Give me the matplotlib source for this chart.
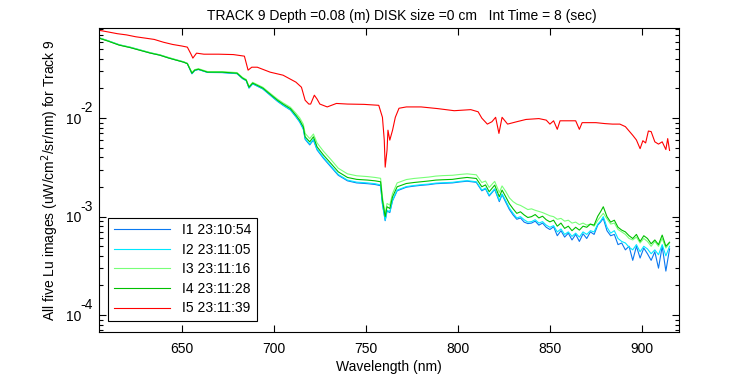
import numpy as np
import matplotlib
matplotlib.use("Agg")
import matplotlib.pyplot as plt

# -*- data (radiance in units of 1e-3 uW/cm^2/sr/nm)

wl_low = np.array([
    605, 610, 616, 622, 627, 633, 638, 643, 647, 651,
    653, 655.5, 657, 659, 664, 672, 680, 683, 685, 686.5,
    688.5, 694, 698, 702, 705, 709, 712, 714, 716, 717,
    719.5, 721.5, 723.5, 727, 731, 735, 740, 745, 751, 755,
    758, 759, 760.5, 761.5, 763, 764.5, 767, 772, 776, 780,
    784, 788, 792, 797, 801, 805, 810, 813, 815, 817,
    820, 822.5, 824, 826, 828, 830, 832, 834, 836, 838,
    840, 842, 844, 846, 848, 850, 852, 854, 856, 858,
    860, 862, 864, 866, 868, 870, 872, 874, 876, 877.5,
    879, 881, 883, 885, 887, 889, 891, 893, 895, 897,
    899, 901, 903, 905, 907, 909, 911, 913, 915])

lu_i1 = np.array([
    65.2, 60.8, 55.4, 52.2, 49.2, 45.8, 43.7, 40.8, 38.9, 37.1,
    35.8, 28.2, 30.5, 31.2, 29.1, 29.0, 28.3, 25.2, 24.0, 20.2,
    22.3, 19.8, 17.1, 14.8, 13.5, 12.1, 10.3, 9.15, 7.75, 6.1,
    5.35, 6.0, 4.75, 3.90, 3.20, 2.63, 2.31, 2.20, 2.16, 2.12,
    2.06, 1.34, 0.91, 1.14, 1.10, 1.45, 1.83, 1.99, 2.04, 2.08,
    2.11, 2.16, 2.18, 2.20, 2.25, 2.29, 2.23, 1.83, 1.92, 1.62,
    1.89, 1.42, 1.67, 1.40, 1.18, 1.04, 0.94, 0.97, 0.88, 0.85,
    0.86, 0.90, 0.82, 0.86, 0.78, 0.74, 0.79, 0.64, 0.72, 0.62,
    0.68, 0.58, 0.66, 0.56, 0.67, 0.60, 0.70, 0.66, 0.82, 0.88,
    0.96, 0.72, 0.64, 0.66, 0.52, 0.54, 0.46, 0.50, 0.36, 0.50,
    0.38, 0.48, 0.42, 0.36, 0.44, 0.30, 0.50, 0.28, 0.47]) * 1e-3

lu_i2 = np.array([
    65.5, 61.0, 55.6, 52.5, 49.5, 46.0, 43.9, 41.0, 39.0, 37.2,
    35.9, 28.4, 30.6, 31.3, 29.2, 29.1, 28.4, 25.3, 24.1, 20.3,
    22.4, 19.9, 17.2, 14.9, 13.6, 12.2, 10.4, 9.25, 7.85, 6.2,
    5.45, 6.1, 4.85, 3.98, 3.27, 2.68, 2.35, 2.24, 2.20, 2.16,
    2.10, 1.36, 0.92, 1.16, 1.12, 1.47, 1.86, 2.02, 2.07, 2.11,
    2.14, 2.19, 2.21, 2.23, 2.28, 2.32, 2.26, 1.86, 1.95, 1.65,
    1.92, 1.46, 1.70, 1.45, 1.22, 1.08, 0.97, 1.00, 0.93, 0.88,
    0.89, 0.93, 0.86, 0.89, 0.82, 0.78, 0.81, 0.70, 0.75, 0.66,
    0.70, 0.63, 0.68, 0.62, 0.70, 0.66, 0.72, 0.70, 0.84, 0.90,
    1.00, 0.78, 0.68, 0.72, 0.60, 0.56, 0.54, 0.49, 0.46, 0.52,
    0.44, 0.50, 0.47, 0.42, 0.46, 0.41, 0.52, 0.40, 0.50]) * 1e-3

lu_i3 = np.array([
    65.5, 61.0, 55.6, 52.5, 49.5, 46.2, 44.0, 41.2, 39.2, 37.4,
    36.1, 29.0, 31.1, 31.8, 29.7, 29.7, 29.0, 25.9, 24.7, 21.0,
    23.1, 20.6, 17.9, 15.6, 14.3, 12.9, 11.2, 10.1, 8.7, 7.0,
    6.2, 6.9, 5.6, 4.6, 3.8, 3.1, 2.72, 2.60, 2.55, 2.50,
    2.45, 1.58, 1.07, 1.36, 1.31, 1.72, 2.20, 2.38, 2.44, 2.48,
    2.52, 2.58, 2.61, 2.63, 2.68, 2.72, 2.66, 2.22, 2.30, 1.98,
    2.28, 1.76, 2.05, 1.80, 1.55, 1.42, 1.34, 1.30, 1.24, 1.18,
    1.20, 1.16, 1.13, 1.10, 1.06, 1.02, 1.00, 0.94, 0.96, 0.90,
    0.92, 0.86, 0.88, 0.83, 0.86, 0.82, 0.84, 0.80, 0.92, 1.00,
    1.08, 0.95, 0.84, 0.86, 0.74, 0.70, 0.66, 0.60, 0.58, 0.62,
    0.54, 0.60, 0.56, 0.50, 0.56, 0.50, 0.60, 0.48, 0.54]) * 1e-3

lu_i4 = np.array([
    64.9, 60.5, 55.1, 52.0, 49.0, 45.7, 43.6, 40.7, 38.8, 37.0,
    35.7, 28.6, 30.7, 31.4, 29.3, 29.3, 28.6, 25.5, 24.3, 20.6,
    22.7, 20.2, 17.5, 15.2, 13.9, 12.5, 10.7, 9.55, 8.16, 6.46,
    5.75, 6.46, 5.11, 4.21, 3.47, 2.85, 2.50, 2.39, 2.35, 2.31,
    2.26, 1.47, 1.00, 1.26, 1.21, 1.59, 2.01, 2.17, 2.22, 2.26,
    2.30, 2.35, 2.37, 2.39, 2.45, 2.50, 2.44, 2.01, 2.10, 1.79,
    2.09, 1.59, 1.86, 1.59, 1.35, 1.20, 1.08, 1.12, 1.04, 0.98,
    1.00, 1.05, 0.97, 1.01, 0.93, 0.885, 0.92, 0.80, 0.86, 0.76,
    0.80, 0.72, 0.78, 0.73, 0.80, 0.78, 0.84, 0.82, 1.01, 1.12,
    1.26, 1.00, 0.88, 0.92, 0.78, 0.73, 0.70, 0.64, 0.60, 0.66,
    0.56, 0.64, 0.60, 0.53, 0.58, 0.52, 0.65, 0.50, 0.55]) * 1e-3

wl_i5 = np.array([
    605, 610, 615, 620, 625, 630, 635, 640, 645, 650,
    653, 655, 656, 658, 662, 670, 678, 684, 686, 688,
    691, 698, 705, 712, 715, 717, 719, 720, 722, 723.5,
    725, 729, 734, 740, 749, 757, 759, 760, 760.5, 761.5,
    762, 763, 764.5, 766, 768, 772, 780, 789, 798, 807,
    811, 813, 816, 818.5, 820.5, 822.3, 824, 827, 832, 837,
    844, 848, 850, 852, 854, 855.5, 864, 866, 867.5, 875,
    880, 884, 888, 891, 895, 897, 899, 900.5, 902, 903.5,
    905, 907, 909, 911, 913, 914, 915])

lu_i5 = np.array([
    78, 75, 72, 70, 67, 65, 63, 59, 56, 54,
    52.6, 44.6, 40.7, 45.7, 44.6, 44.6, 44.2, 42.6, 30.7, 32.9,
    32.9, 29.3, 27.3, 23.2, 20.6, 15.2, 13.9, 13.9, 17.1, 15.6,
    13.9, 13.0, 14.1, 13.9, 13.8, 13.5, 10.2, 5.98, 3.18, 4.73,
    7.55, 5.98, 7.55, 10.2, 12.6, 13.0, 13.0, 12.5, 11.9, 12.2,
    11.6, 10.0, 8.7, 9.2, 10.2, 7.0, 10.2, 8.7, 9.2, 9.7,
    9.9, 9.55, 8.7, 9.4, 7.7, 9.4, 9.4, 7.7, 9.0, 9.0,
    8.8, 8.7, 8.7, 8.2, 6.7, 6.0, 4.9, 5.9, 5.6, 7.4,
    7.3, 5.75, 5.45, 5.75, 4.8, 6.2, 4.7]) * 1e-3

labels = ["I1 23:10:54", "I2 23:11:05", "I3 23:11:16", "I4 23:11:28", "I5 23:11:39"]
colors = ["#0a78f0", "#00e8ff", "#78ff78", "#00c000", "#ff0000"]
ytick_vals = [1e-4, 1e-3, 1e-2]
ytick_exps = ["-4", "-3", "-2"]

# -*- figure

plt.rcParams["font.family"] = ["Liberation Sans", "DejaVu Sans"]
plt.rcParams["font.size"] = 10

fig = plt.figure(figsize=(7.5, 3.75), dpi=100)
ax = fig.add_axes([0.132, 0.115, 0.773, 0.81])

series = [(wl_low, lu_i1), (wl_low, lu_i2), (wl_low, lu_i3), (wl_low, lu_i4), (wl_i5, lu_i5)]
for (x, y), c, lab in zip(series, colors, labels):
    ax.plot(x, y, color=c, lw=0.8, label=lab)

ax.set_yscale("log")
ax.set_xlim(605, 920)
ax.set_ylim(10 ** -4.17, 10 ** -1.086)
ax.set_xticks([650, 700, 750, 800, 850, 900])
ax.set_yticks(ytick_vals)
ax.set_yticklabels(["10"] * len(ytick_vals))
ax.tick_params(which="both", direction="in", top=True, right=True, width=0.8)
ax.tick_params(which="major", length=5, labelsize=10)
ax.tick_params(which="minor", length=3)
ax.tick_params(axis="x", which="minor", bottom=False, top=False)
ax.tick_params(axis="x", pad=7.5)
ax.tick_params(axis="y", pad=12.5)
for s in ax.spines.values():
    s.set_linewidth(0.8)

# MATLAB-style exponent next to the "10"
for v, e in zip(ytick_vals, ytick_exps):
    ax.annotate(e, xy=(0, v), xycoords=("axes fraction", "data"),
                xytext=(-19, 10), textcoords="offset pixels",
                ha="left", va="center", fontsize=10, annotation_clip=False)

ax.set_title("TRACK 9 Depth =0.08 (m) DISK size =0 cm   Int Time = 8 (sec)",
             fontsize=10, pad=6, x=0.522)
ax.set_xlabel("Wavelength (nm)", fontsize=10, labelpad=3)
ax.set_ylabel("All five Lu images (uW/cm$^2$/sr/nm) for Track 9", fontsize=10, labelpad=4)

leg = ax.legend(loc="lower left", bbox_to_anchor=(0.0155, 0.036), borderaxespad=0,
                fancybox=False, framealpha=1, edgecolor="black", handlelength=4.1,
                labelspacing=0.4, fontsize=10)
leg.get_frame().set_linewidth(0.8)

fig.savefig("out.png", dpi=100)
